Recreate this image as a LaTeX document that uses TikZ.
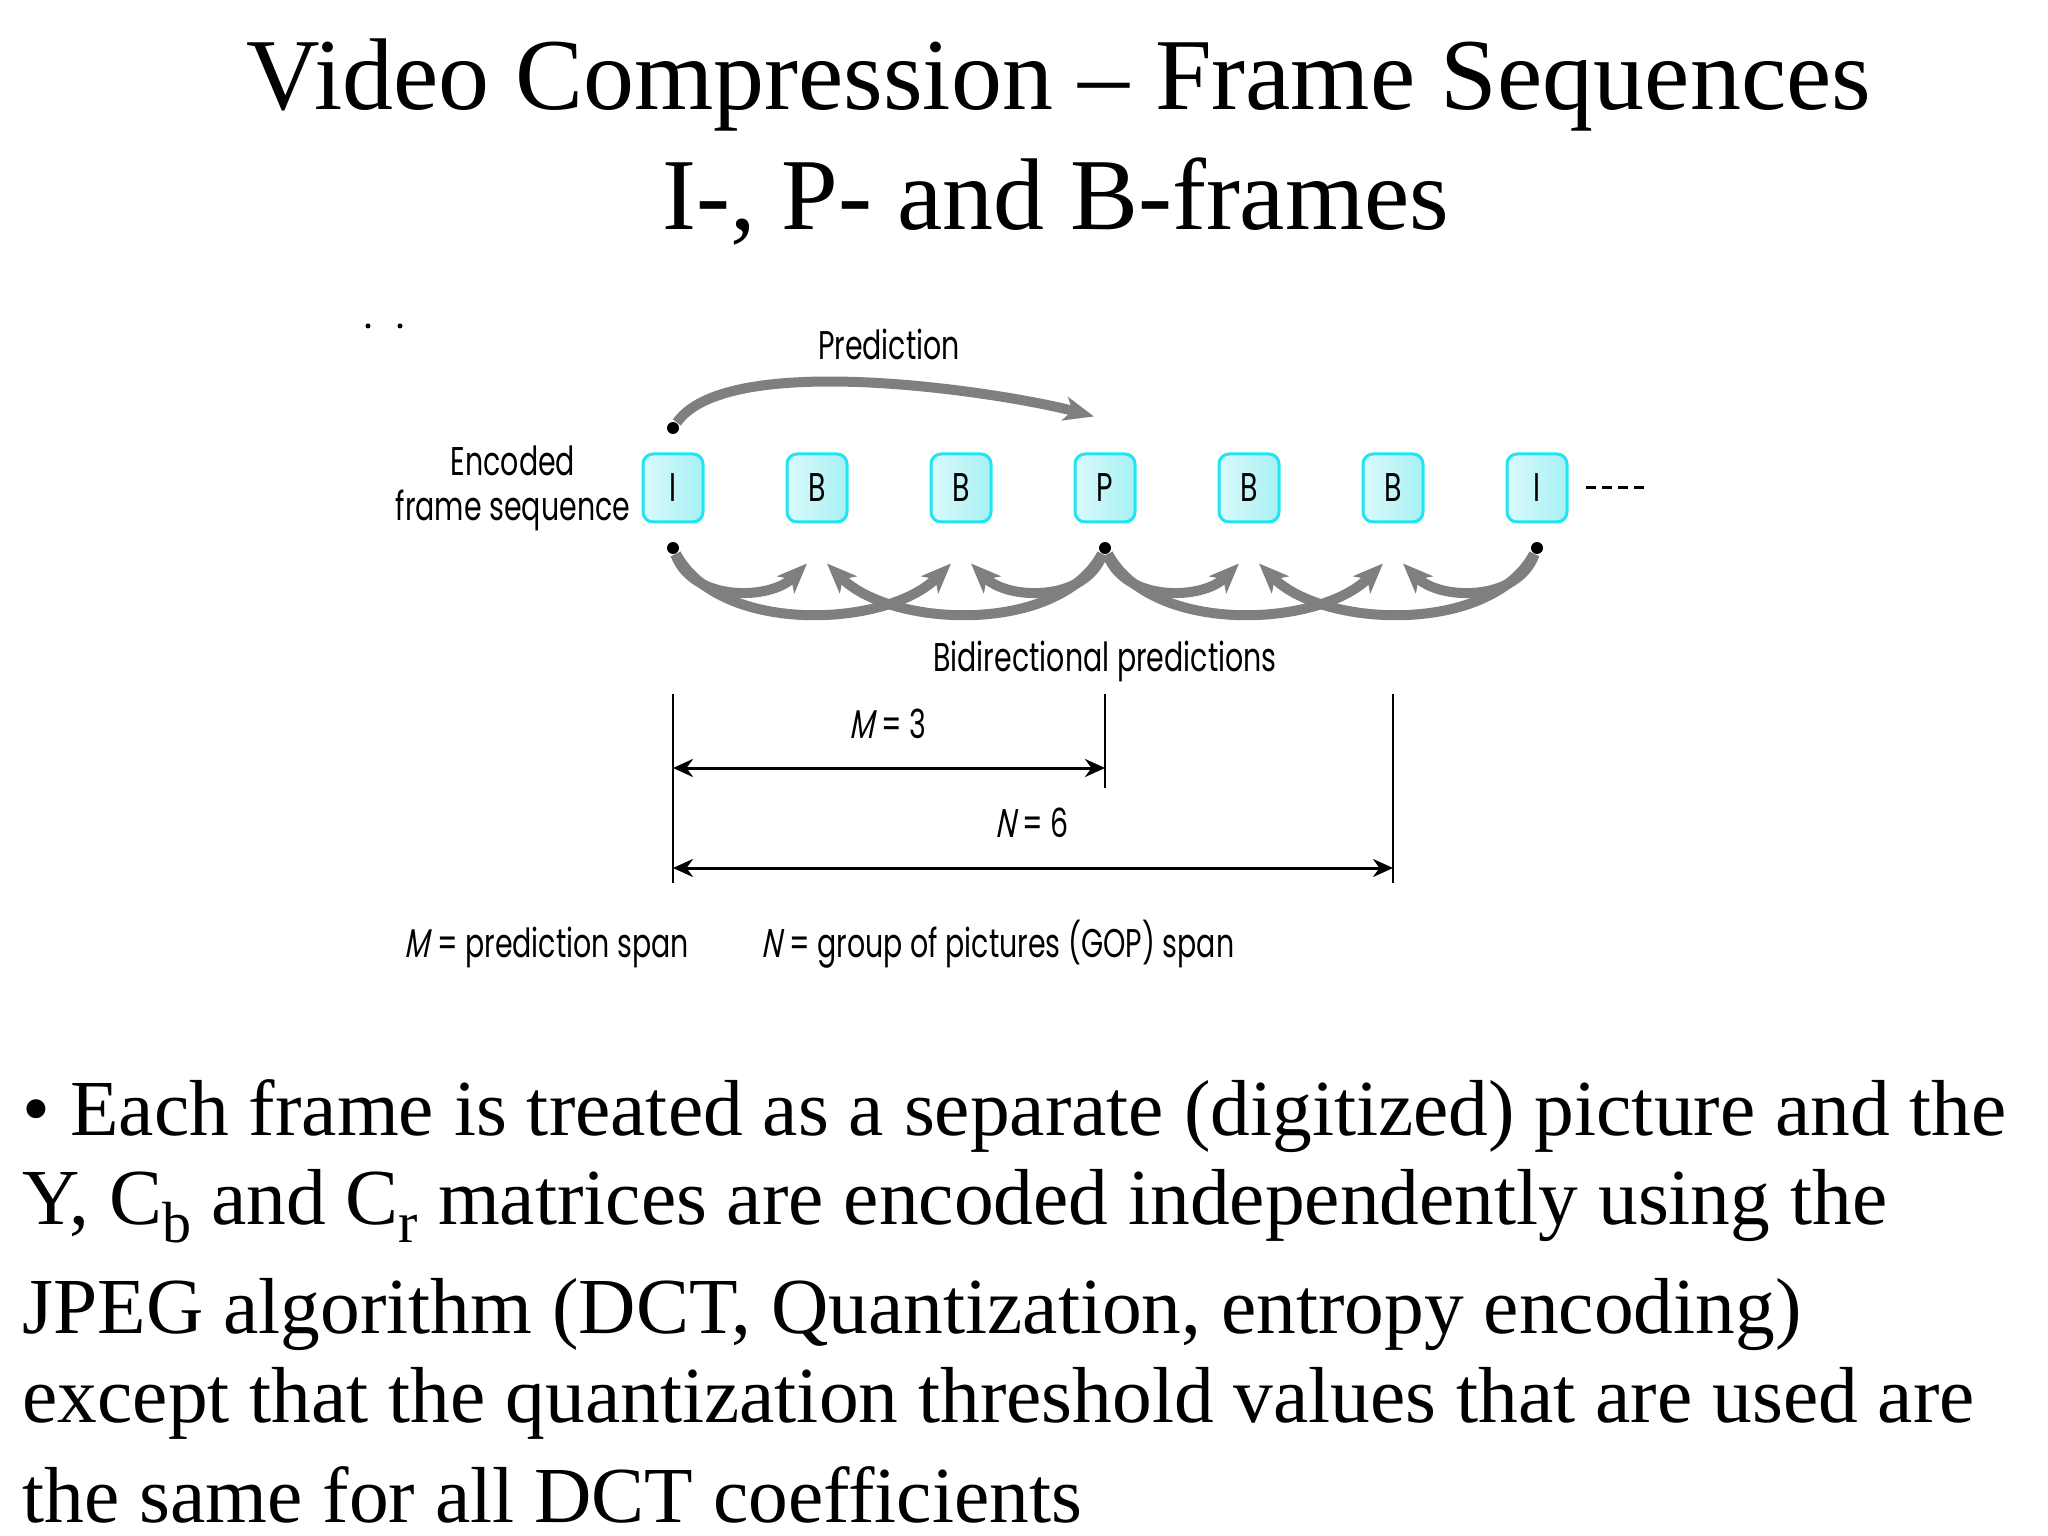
\documentclass[tikz,border=0pt]{standalone}
\usepackage{fontspec}
\setmainfont{Liberation Serif}
\newfontfamily\figfont[FakeStretch=0.71]{Poppins}
\newfontfamily\figitfont[FakeStretch=0.71,FakeSlant=0.2]{Poppins}
\usepackage{xcolor}
\usetikzlibrary{positioning,arrows.meta,calc}

\definecolor{boxcyan}{HTML}{1EE6F0}
\definecolor{boxfillL}{HTML}{DCFAFC}
\definecolor{boxfillR}{HTML}{A6F0F4}
\definecolor{arcgray}{HTML}{7F7F7F}

\newcommand{\subtxt}[1]{\raisebox{-0.18cm}{\fontsize{16.5pt}{16.5pt}\selectfont #1}}

\begin{document}
\begin{tikzpicture}[node distance=1.44cm, auto,
    frm/.style={draw=boxcyan, line width=0.03cm, rounded corners=0.1cm, left color=boxfillL, right color=boxfillR,
        minimum width=0.6cm, minimum height=0.68cm, inner sep=0pt, font=\figfont\fontsize{11.4pt}{12pt}\selectfont},
    fdot/.style={circle, fill=black, inner sep=0pt, minimum size=0.12cm},
    lbl/.style={font=\figfont\fontsize{11.4pt}{0.45cm}\selectfont, inner sep=0pt},
    pred/.style={draw=arcgray, line width=0.1cm, -{Stealth[length=0.3cm,width=0.24cm,inset=0.08cm]}},
    span/.style={line width=0.03cm, {Stealth[length=0.2cm,width=0.18cm]}-{Stealth[length=0.2cm,width=0.18cm]}},
    vline/.style={line width=0.02cm},
    txt/.style={font=\fontsize{22.6pt}{22.6pt}\selectfont, inner sep=0pt, anchor=base west},
    ttl/.style={font=\fontsize{29pt}{29pt}\selectfont, inner sep=0pt, anchor=base}]
        \useasboundingbox (0,0) rectangle (20.48,-15.36);

        \node (title1) [ttl] at (10.59,-1.10) {Video Compression -- Frame Sequences};
        \node (title2) [ttl] at (10.56,-2.30) {I-, P- and B-frames};

        \node (fr1) [frm] at (6.73,-4.88) {I};
        \node (fr2) [frm, right of=fr1] {B};
        \node (fr3) [frm, right of=fr2] {B};
        \node (fr4) [frm, right of=fr3] {P};
        \node (fr5) [frm, right of=fr4] {B};
        \node (fr6) [frm, right of=fr5] {B};
        \node (fr7) [frm, right of=fr6] {I};

        \node (dt1) [fdot, above of=fr1, node distance=0.6cm] {};
        \node (db1) [fdot, below of=fr1, node distance=0.6cm] {};
        \node (db4) [fdot, below of=fr4, node distance=0.6cm] {};
        \node (db7) [fdot, below of=fr7, node distance=0.6cm] {};

        \node (enc) [lbl, align=center, left of=fr1, node distance=1.6cm] {Encoded\\frame sequence};
        \node (predlbl) [lbl, anchor=base] at (8.89,-3.60) {Prediction};
        \node (bidir) [lbl, below of=fr4, node distance=1.73cm] {Bidirectional predictions};

        \coordinate (ptip) at ($(fr4.north)+(-0.11,0.36)$);
        \coordinate (b1l) at ($(fr2.south)+(-0.1,-0.4)$);
        \coordinate (b1r) at ($(fr2.south)+(0.1,-0.4)$);
        \coordinate (b2l) at ($(fr3.south)+(-0.1,-0.4)$);
        \coordinate (b2r) at ($(fr3.south)+(0.1,-0.4)$);
        \coordinate (b3l) at ($(fr5.south)+(-0.1,-0.4)$);
        \coordinate (b3r) at ($(fr5.south)+(0.1,-0.4)$);
        \coordinate (b4l) at ($(fr6.south)+(-0.1,-0.4)$);
        \coordinate (b4r) at ($(fr6.south)+(0.1,-0.4)$);

        \draw[pred] (dt1) to[out=55, in=165, looseness=0.55] (ptip);

        \draw[pred] (db1) to[out=-70, in=-135] (b1l);
        \draw[pred] (db1) to[out=-62, in=-135, looseness=0.85] (b2l);
        \draw[pred] (db4) to[out=-110, in=-45] (b2r);
        \draw[pred] (db4) to[out=-118, in=-45, looseness=0.85] (b1r);
        \draw[pred] (db4) to[out=-70, in=-135] (b3l);
        \draw[pred] (db4) to[out=-62, in=-135, looseness=0.85] (b4l);
        \draw[pred] (db7) to[out=-110, in=-45] (b4r);
        \draw[pred] (db7) to[out=-118, in=-45, looseness=0.85] (b3r);

        \coordinate (ds) at ($(fr7.east)+(0.17,0)$);
        \coordinate (de) at ($(fr7.east)+(0.76,0)$);
        \draw[line width=0.03cm, dash pattern=on 0.1cm off 0.063cm] (ds) -- (de);

        \coordinate (lt) at ($(fr1)+(0,-2.06)$);
        \coordinate (lb) at ($(fr1)+(0,-3.95)$);
        \coordinate (mt) at ($(fr4)+(0,-2.06)$);
        \coordinate (mb) at ($(fr4)+(0,-3.00)$);
        \coordinate (rt) at ($(fr6)+(0,-2.06)$);
        \coordinate (rb) at ($(fr6)+(0,-3.95)$);
        \draw[vline] (lt) -- (lb);
        \draw[vline] (mt) -- (mb);
        \draw[vline] (rt) -- (rb);

        \coordinate (ma) at ($(fr1)+(0,-2.80)$);
        \coordinate (mz) at ($(fr4)+(0,-2.80)$);
        \coordinate (na) at ($(fr1)+(0,-3.80)$);
        \coordinate (nz) at ($(fr6)+(0,-3.80)$);
        \draw[span] (ma) -- (mz);
        \draw[span] (na) -- (nz);

        \node (mlbl) [lbl, anchor=base] at (8.88,-7.38) {{\figitfont M} = 3};
        \node (nlbl) [lbl, anchor=base] at (10.32,-8.37) {{\figitfont N} = 6};
        \node (mkey) [lbl, anchor=base] at (5.47,-9.58) {{\figitfont M} = prediction span};
        \node (nkey) [lbl, anchor=base] at (9.98,-9.58) {{\figitfont N} = group of pictures (GOP) span};

        \fill (3.68,-3.26) circle (0.025);
        \fill (4.00,-3.26) circle (0.025);

        \node (ln1) [txt] at (0.22,-11.35) {• Each frame is treated as a separate (digitized) picture and the};
        \node (ln2) [txt] at (0.22,-12.24) {Y, C\subtxt{b} and C\subtxt{r} matrices are encoded independently using the};
        \node (ln3) [txt] at (0.22,-13.33) {JPEG algorithm (DCT, Quantization, entropy encoding)};
        \node (ln4) [txt] at (0.22,-14.22) {except that the quantization threshold values that are used are};
        \node (ln5) [txt] at (0.22,-15.22) {the same for all DCT coefficients};
\end{tikzpicture}
\end{document}
